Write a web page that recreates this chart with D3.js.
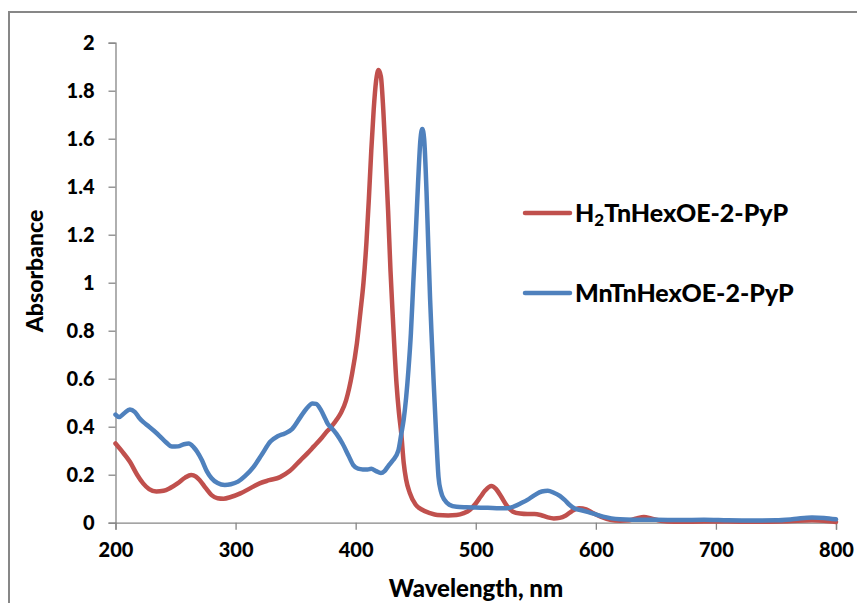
<!DOCTYPE html>
<html>
<head>
<meta charset="utf-8">
<script src="https://cdn.jsdelivr.net/npm/d3@7/dist/d3.min.js"></script>
<style>
  html, body { margin: 0; padding: 0; background: #fff; }
  svg { display: block; }
  text { font-family: Lato, "Open Sans", sans-serif; font-weight: bold; fill: #000; }
</style>
</head>
<body>
<svg id="chart" width="857" height="603"></svg>
<script>
// UV-vis absorption spectra of the free-base and Mn porphyrins
const xTicks = [200, 300, 400, 500, 600, 700, 800];
const yTicks = [0, 0.2, 0.4, 0.6, 0.8, 1, 1.2, 1.4, 1.6, 1.8, 2];

const h2Wavelength = [200, 205, 212, 218, 223, 228, 234, 240, 245, 252, 258, 263, 267, 270, 275, 280, 285, 290, 296, 304, 312, 320, 328, 337, 345, 354, 360, 365, 372, 376, 379, 382, 385, 388, 392, 397, 401, 404, 406.5, 409, 411, 413, 415, 417, 419, 421, 423, 425, 427, 429, 431, 434, 436, 438, 440, 442, 445, 450, 455, 462, 468, 477, 484, 490, 495, 500, 504, 508, 513, 517, 521, 526, 531, 537, 543, 549, 554, 560, 565, 570, 575, 580, 586, 592, 598, 604, 612, 620, 628, 634, 640, 646, 654, 665, 680, 700, 720, 740, 760, 780, 790, 800];
const h2Absorbance = [0.33, 0.30, 0.254, 0.20, 0.164, 0.14, 0.13, 0.133, 0.143, 0.165, 0.188, 0.199, 0.192, 0.178, 0.145, 0.115, 0.102, 0.10, 0.107, 0.122, 0.143, 0.164, 0.177, 0.19, 0.215, 0.26, 0.29, 0.317, 0.355, 0.38, 0.395, 0.415, 0.435, 0.46, 0.51, 0.62, 0.747, 0.88, 1.0, 1.17, 1.35, 1.55, 1.72, 1.84, 1.886, 1.86, 1.72, 1.52, 1.30, 1.05, 0.85, 0.58, 0.46, 0.37, 0.25, 0.18, 0.125, 0.075, 0.055, 0.04, 0.032, 0.03, 0.032, 0.04, 0.053, 0.08, 0.108, 0.135, 0.153, 0.14, 0.11, 0.07, 0.046, 0.038, 0.036, 0.036, 0.032, 0.022, 0.018, 0.02, 0.03, 0.048, 0.06, 0.055, 0.039, 0.025, 0.012, 0.008, 0.01, 0.018, 0.024, 0.018, 0.008, 0.004, 0.004, 0.005, 0.004, 0.004, 0.006, 0.01, 0.008, 0.003];

const mnWavelength = [200, 203, 207, 212, 216, 220, 223, 228, 232, 237, 242, 247, 252, 257, 261, 265, 268, 272, 276, 280, 285, 291, 296, 302, 308, 315, 322, 329, 335, 341, 347, 354, 359, 364, 367, 371, 375, 377, 379, 384, 389, 394, 398, 402, 406, 410, 413, 417, 421, 424, 427, 431, 435.5, 438, 440, 442, 444, 446, 448, 450, 452, 454, 455.5, 457, 459, 460.5, 462, 463.5, 465, 467, 469, 471, 474, 478, 484, 492, 500, 510, 520, 526, 532, 538, 543, 549, 555, 560, 565, 570, 574, 578, 582, 588, 593, 600, 606, 613, 620, 630, 650, 670, 690, 710, 730, 750, 765, 780, 790, 800];
const mnAbsorbance = [0.45, 0.44, 0.455, 0.472, 0.462, 0.435, 0.42, 0.40, 0.383, 0.36, 0.335, 0.317, 0.318, 0.327, 0.33, 0.315, 0.296, 0.26, 0.215, 0.185, 0.165, 0.157, 0.16, 0.171, 0.195, 0.233, 0.285, 0.338, 0.36, 0.372, 0.39, 0.44, 0.475, 0.497, 0.495, 0.47, 0.43, 0.41, 0.40, 0.37, 0.33, 0.28, 0.24, 0.225, 0.222, 0.222, 0.225, 0.215, 0.207, 0.215, 0.235, 0.26, 0.30, 0.37, 0.43, 0.52, 0.64, 0.79, 1.0, 1.2, 1.42, 1.6, 1.64, 1.6, 1.38, 1.15, 0.93, 0.75, 0.58, 0.37, 0.19, 0.13, 0.095, 0.075, 0.066, 0.064, 0.063, 0.062, 0.06, 0.06, 0.068, 0.082, 0.095, 0.115, 0.13, 0.133, 0.125, 0.112, 0.095, 0.075, 0.06, 0.052, 0.045, 0.035, 0.025, 0.018, 0.014, 0.012, 0.012, 0.011, 0.012, 0.01, 0.009, 0.01, 0.015, 0.022, 0.02, 0.014];

const seriesNames = ["H2TnHexOE-2-PyP", "MnTnHexOE-2-PyP"];
const seriesColors = ["#C0504D", "#4F81BD"];

const svg = d3.select("#chart");

// outer chart frame
svg.append("rect")
  .attr("x", 9).attr("y", 12).attr("width", 900).attr("height", 700)
  .attr("fill", "none").attr("stroke", "#878787").attr("stroke-width", 2);

const plot = { left: 115.5, right: 836, top: 42.7, bottom: 522.7 };

const x = d3.scaleLinear().domain([200, 800]).range([plot.left, plot.right]);
const y = d3.scaleLinear().domain([0, 2]).range([plot.bottom, plot.top]);

// y axis
const yAxis = svg.append("g")
  .attr("transform", `translate(${plot.left},0)`)
  .call(d3.axisLeft(y).tickValues(yTicks).tickSize(7).tickPadding(14)
    .tickFormat(d => String(+d.toFixed(1))));
// x axis
const xAxis = svg.append("g")
  .attr("transform", `translate(0,${plot.bottom})`)
  .call(d3.axisBottom(x).tickValues(xTicks).tickSize(7).tickPadding(13)
    .tickFormat(d3.format("d")));

[yAxis, xAxis].forEach(g => {
  g.select(".domain").attr("stroke", "#868686").attr("stroke-width", 1.3);
  g.selectAll(".tick line").attr("stroke", "#868686").attr("stroke-width", 1.3);
  g.selectAll(".tick text")
    .style("font-family", "Lato, sans-serif").style("font-weight", "900")
    .style("font-size", "20px").attr("fill", "#000");
});

// spectra
const line = d3.line()
  .x(d => x(d[0]))
  .y(d => y(d[1]))
  .curve(d3.curveMonotoneX);

const series = [
  d3.zip(h2Wavelength, h2Absorbance),
  d3.zip(mnWavelength, mnAbsorbance)
];

series.forEach((pts, i) => {
  svg.append("path")
    .datum(pts)
    .attr("fill", "none")
    .attr("stroke", seriesColors[i])
    .attr("stroke-width", 4.5)
    .attr("stroke-linejoin", "round")
    .attr("stroke-linecap", "round")
    .attr("d", line);
});

// axis titles
svg.append("text")
  .attr("transform", "translate(43,271) rotate(-90)")
  .attr("text-anchor", "middle")
  .style("font-size", "23px").style("font-weight", "900")
  .text("Absorbance");

svg.append("text")
  .attr("x", 476).attr("y", 597)
  .attr("text-anchor", "middle")
  .style("font-size", "24px").style("font-weight", "900")
  .text("Wavelength, nm");

// legend
const legendY = [213, 293];
seriesNames.forEach((name, i) => {
  const g = svg.append("g").attr("transform", `translate(525,${legendY[i]})`);
  g.append("line")
    .attr("x1", 0).attr("x2", 45)
    .attr("stroke", seriesColors[i]).attr("stroke-width", 4.5)
    .attr("stroke-linecap", "round");
  const t = g.append("text").attr("x", 50).attr("y", 9)
    .style("font-size", "25px").style("font-weight", "900");
  if (name.startsWith("H2")) {
    t.append("tspan").text("H");
    t.append("tspan").text("2").style("font-size", "17px").attr("dy", 4);
    t.append("tspan").text(name.slice(2)).attr("dy", -4);
  } else {
    t.text(name);
  }
});
</script>
</body>
</html>
